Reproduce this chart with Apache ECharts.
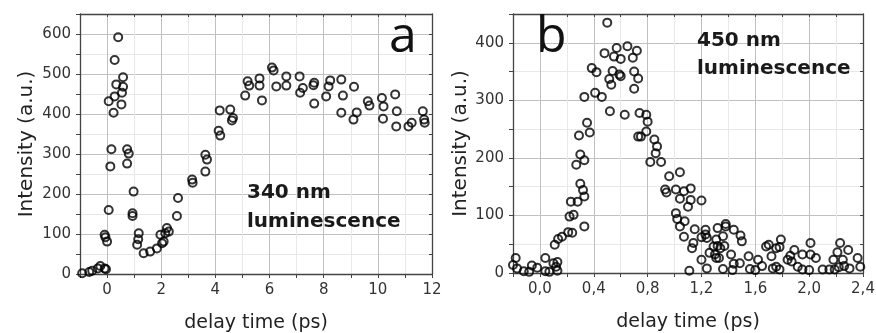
<!DOCTYPE html>
<html><head><meta charset="utf-8">
<script src="https://cdn.jsdelivr.net/npm/echarts@6/dist/echarts.min.js"></script>
<style>html,body{margin:0;padding:0;background:#fff}#c{width:876px;height:333px}</style>
</head><body><div id="c"></div>
<script>
// ---- Panel a: 340 nm luminescence ----
const aDelay = [-0.92,-0.66,-0.55,-0.34,-0.25,-0.09,-0.04,
  -0.09,-0.06,0.0,0.06,0.12,0.16,0.06,0.24,0.28,0.34,0.28,0.41,0.55,0.59,0.59,0.53,
  0.74,0.80,0.74,0.98,0.94,0.94,1.17,1.15,1.11,
  1.35,1.59,1.84,2.03,2.09,1.97,2.15,2.21,2.28,
  2.58,2.62,3.14,3.16,3.63,3.69,3.63,
  4.12,4.18,4.16,4.55,4.65,4.61,
  5.10,5.19,5.25,5.63,5.63,5.72,
  6.09,6.15,6.25,6.62,6.62,
  7.11,7.13,7.23,7.65,7.62,7.65,
  8.09,8.18,8.24,8.65,8.71,8.65,
  9.12,9.10,9.22,9.63,9.69,
  10.15,10.21,10.19,10.64,10.70,10.68,
  11.13,11.25,11.66,11.71,11.73];
const aIntensity = [2,5,8,14,20,14,12,
  98,92,81,160,269,312,432,403,444,474,535,592,453,468,492,424,
  312,301,276,206,152,145,102,87,73,
  52,56,64,77,81,98,102,115,106,
  145,190,236,228,298,286,256,
  358,346,409,411,390,384,
  446,482,471,489,471,434,
  516,509,469,494,471,
  494,453,465,478,472,426,
  444,469,484,486,446,403,
  468,386,404,432,421,
  440,419,388,449,407,369,
  369,378,407,386,378];

// ---- Panel b: 450 nm luminescence ----
const bDelay = [-0.21,-0.18,-0.20,-0.17,-0.06,-0.02,0.04,0.04,0.10,0.12,0.13,0.13,-0.08,0.07,-0.12,
  0.11,0.135,0.164,0.21,0.24,0.22,0.25,0.33,0.23,0.28,0.30,0.32,0.33,0.27,0.30,0.33,0.29,0.35,0.37,
  0.33,0.41,0.46,0.385,0.42,0.48,0.50,0.52,0.515,0.53,0.54,0.55,0.57,0.60,0.60,0.65,0.72,0.69,
  0.59,0.70,0.73,0.70,0.63,0.74,0.79,0.80,0.79,0.73,0.75,0.85,0.87,0.86,0.82,0.90,
  1.04,0.96,0.93,0.94,1.01,1.07,1.12,1.04,1.12,1.10,1.20,1.01,1.02,1.075,1.04,1.15,1.23,
  1.07,1.14,1.13,1.20,1.24,1.23,1.32,1.38,1.38,1.44,1.31,1.36,1.29,1.34,1.26,1.20,1.31,1.42,
  1.11,1.24,1.36,1.44,1.49,1.50,1.32,1.37,1.30,1.33,
  1.485,1.55,1.56,1.62,1.65,1.68,1.70,1.72,1.755,1.79,1.78,1.755,1.84,1.86,1.89,1.87,1.915,
  1.95,1.95,2.01,2.01,2.05,2.00,2.10,2.15,2.19,2.18,2.21,2.23,2.25,2.26,2.29,2.30,2.36,2.38,
  2.22,1.73,1.78,1.60,1.43];
const bIntensity = [42,26,14,8,13,9,26,3,17,11,19,4,2,2,3,
  49,59,63,71,70,98,101,81,124,124,155,144,133,188,206,196,239,261,244,
  306,313,306,356,349,382,435,281,337,327,351,376,391,372,342,394,386,374,
  345,350,338,320,275,278,275,263,246,237,237,232,220,208,193,193,
  175,168,145,140,145,142,147,129,127,115,126,104,94,90,81,76,75,
  63,52,43,62,61,67,78,81,85,75,58,64,46,43,35,23,26,32,
  4,8,7,16,65,55,47,47,32,26,
  17,29,7,23,12,46,49,29,11,58,45,43,23,30,40,20,11,
  32,6,52,32,26,5,6,6,6,23,36,52,23,12,40,8,26,11,
  10,8,6,5,5];

// axis ranges and tick steps
const aXRange = [-1, 12], aXStep = 1, aXMajor = 2;
const aYRange = [0, 650], aYStep = 50, aYMajor = 100;
const bXRange = [-0.2, 2.4], bXStep = 0.2, bXMajor = 0.4;
const bYRange = [0, 450], bYStep = 50, bYMajor = 100;

const zip = (xs, ys) => xs.map((x, i) => [x, ys[i]]);
const isMult = (v, m) => Math.abs(v / m - Math.round(v / m)) < 1e-6;
const MAJ = '#c0c0c0', MIN = '#e8e8e8', AX = '#444';
const tickFont = {fontFamily: 'DejaVu Sans', fontSize: 15, color: '#333'};
const titleFont = {fontFamily: 'DejaVu Sans', fontSize: 19, color: '#222'};

function splitColors(min, step, major) {
  return isMult(min, major) ? [MAJ, MIN] : [MIN, MAJ];
}
function bottomX(g, r, step, major, fmt) {
  return {type: 'value', gridIndex: g, min: r[0], max: r[1], interval: step, position: 'bottom',
    name: 'delay time (ps)', nameLocation: 'middle', nameGap: 40, nameTextStyle: titleFont,
    axisLine: {show: true, onZero: false, lineStyle: {color: AX, width: 1.3}},
    axisTick: {show: true, inside: false, length: 4, lineStyle: {color: AX}},
    axisLabel: Object.assign({margin: 9, showMinLabel: true, showMaxLabel: true,
      formatter: v => isMult(v, major) ? fmt(v) : ''}, tickFont),
    splitLine: {show: true, lineStyle: {color: splitColors(r[0], step, major), width: 1}}};
}
function topX(g, r, step) {
  return {type: 'value', gridIndex: g, min: r[0], max: r[1], interval: step, position: 'top',
    axisLine: {show: true, onZero: false, lineStyle: {color: AX, width: 1.3}},
    axisTick: {show: true, inside: true, length: 3, lineStyle: {color: AX}},
    axisLabel: {show: false}, splitLine: {show: false}};
}
function leftY(g, r, step, major, gap) {
  return {type: 'value', gridIndex: g, min: r[0], max: r[1], interval: step, position: 'left',
    name: 'Intensity (a.u.)', nameLocation: 'middle', nameGap: gap, nameTextStyle: Object.assign({}, titleFont, {fontSize: 20}),
    axisLine: {show: true, onZero: false, lineStyle: {color: AX, width: 1.3}},
    axisTick: {show: true, inside: false, length: 4, lineStyle: {color: AX}},
    axisLabel: Object.assign({margin: 9, formatter: v => isMult(v, major) ? String(v) : ''}, tickFont),
    splitLine: {show: true, lineStyle: {color: splitColors(r[0], step, major), width: 1}}};
}
function rightY(g, r, step) {
  return {type: 'value', gridIndex: g, min: r[0], max: r[1], interval: step, position: 'right',
    axisLine: {show: true, onZero: false, lineStyle: {color: AX, width: 1.3}},
    axisTick: {show: true, inside: true, length: 3, lineStyle: {color: AX}},
    axisLabel: {show: false}, splitLine: {show: false}};
}
const scatterStyle = {color: 'rgba(0,0,0,0)', borderColor: '#000', borderWidth: 2};

const chart = echarts.init(document.getElementById('c'), null, {renderer: 'canvas'});
chart.setOption({
  animation: false,
  backgroundColor: '#fff',
  grid: [
    {left: 80, top: 14, width: 352, height: 260, containLabel: false, outerBoundsMode: 'none'},
    {left: 513, top: 14, width: 350, height: 259, containLabel: false, outerBoundsMode: 'none'}
  ],
  xAxis: [
    bottomX(0, aXRange, aXStep, aXMajor, v => String(v)),
    topX(0, aXRange, aXStep),
    bottomX(1, bXRange, bXStep, bXMajor, v => v.toFixed(1).replace('.', ',')),
    topX(1, bXRange, bXStep)
  ],
  yAxis: [
    leftY(0, aYRange, aYStep, aYMajor, 43),
    rightY(0, aYRange, aYStep),
    leftY(1, bYRange, bYStep, bYMajor, 42),
    rightY(1, bYRange, bYStep)
  ],
  series: [
    {type: 'scatter', xAxisIndex: 0, yAxisIndex: 0, symbol: 'circle', symbolSize: 8,
      itemStyle: scatterStyle, data: zip(aDelay, aIntensity)},
    {type: 'scatter', xAxisIndex: 2, yAxisIndex: 2, symbol: 'circle', symbolSize: 8,
      itemStyle: scatterStyle, data: zip(bDelay, bIntensity)}
  ],
  graphic: [
    {type: 'text', z: 100, x: 389, y: 38, style: {text: 'a', font: '50px "Open Sans"', fill: '#111', verticalAlign: 'middle'}},
    {type: 'text', z: 100, x: 536, y: 38, style: {text: 'b', font: '50px "Open Sans"', fill: '#111', verticalAlign: 'middle'}},
    {type: 'text', z: 100, x: 247, y: 178, style: {text: '340 nm\nluminescence', font: 'bold 20px "DejaVu Sans"', lineHeight: 29, fill: '#1a1a1a', stroke: null, lineWidth: 0, verticalAlign: 'top'}},
    {type: 'text', z: 100, x: 697, y: 27, style: {text: '450 nm\nluminescence', font: 'bold 20px "DejaVu Sans"', lineHeight: 28, fill: '#1a1a1a', stroke: null, lineWidth: 0, verticalAlign: 'top'}}
  ]
});
</script>
</body></html>
